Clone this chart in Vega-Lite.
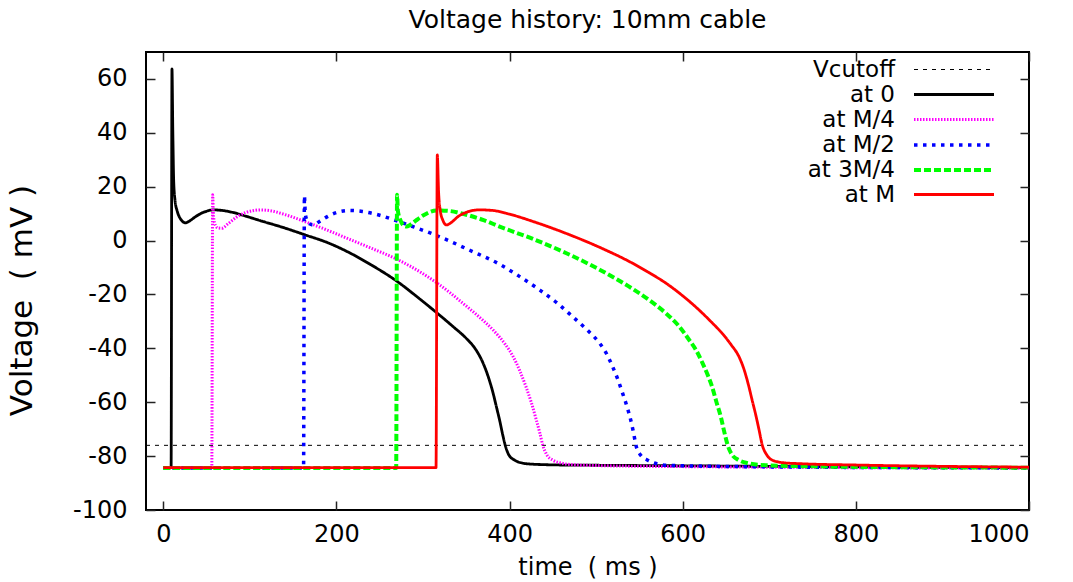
{
  "$schema": "https://vega.github.io/schema/vega-lite/v6.json",
  "width": 883,
  "height": 458,
  "autosize": {"type": "none"},
  "padding": {"left": 146, "top": 52, "right": 44, "bottom": 72},
  "background": "white",
  "title": {"text": "Voltage history: 10mm cable", "font": "DejaVu Sans", "fontSize": 25, "fontWeight": "normal", "color": "black", "anchor": "middle", "offset": 18},
  "config": {
    "view": {"stroke": "black", "strokeWidth": 2},
    "axis": {"grid": false, "domain": false, "labelFont": "DejaVu Sans", "labelFontSize": 24, "labelColor": "black", "titleFont": "DejaVu Sans", "titleFontSize": 25, "titleFontWeight": "normal", "titleColor": "black", "tickColor": "#222222", "tickWidth": 1.5, "tickSize": -9},
    "legend": {"title": null, "labelFont": "DejaVu Sans", "labelFontSize": 23, "labelColor": "black", "labelLimit": 0, "padding": 0, "rowPadding": 1}
  },
  "datasets": {
    "v": [
      {"s": "Vcutoff", "t": -20, "v": -76}, {"s": "Vcutoff", "t": 1000, "v": -76},
      {"s": "at 0", "t": 0, "v": -84.3}, {"s": "at 0", "t": 9, "v": -84.3}, {"s": "at 0", "t": 10, "v": 63.7}, {"s": "at 0", "t": 11, "v": 40}, {"s": "at 0", "t": 12, "v": 22}, {"s": "at 0", "t": 13.5, "v": 15}, {"s": "at 0", "t": 16, "v": 11}, {"s": "at 0", "t": 19, "v": 8.5}, {"s": "at 0", "t": 22, "v": 7.2}, {"s": "at 0", "t": 25.5, "v": 6.6}, {"s": "at 0", "t": 30, "v": 7.2}, {"s": "at 0", "t": 36, "v": 8.6}, {"s": "at 0", "t": 43, "v": 10}, {"s": "at 0", "t": 50, "v": 10.9}, {"s": "at 0", "t": 58, "v": 11.4}, {"s": "at 0", "t": 70, "v": 11.1}, {"s": "at 0", "t": 81, "v": 10.4}, {"s": "at 0", "t": 95, "v": 9.1}, {"s": "at 0", "t": 112, "v": 7.4}, {"s": "at 0", "t": 140, "v": 4.7}, {"s": "at 0", "t": 164, "v": 2.1}, {"s": "at 0", "t": 190, "v": -0.8}, {"s": "at 0", "t": 215, "v": -4.5}, {"s": "at 0", "t": 240, "v": -9}, {"s": "at 0", "t": 269, "v": -14.9}, {"s": "at 0", "t": 296, "v": -21.6}, {"s": "at 0", "t": 317, "v": -27.1}, {"s": "at 0", "t": 335, "v": -32}, {"s": "at 0", "t": 350, "v": -36.3}, {"s": "at 0", "t": 360, "v": -40}, {"s": "at 0", "t": 369, "v": -45.2}, {"s": "at 0", "t": 375, "v": -50.2}, {"s": "at 0", "t": 381, "v": -56.7}, {"s": "at 0", "t": 385, "v": -62}, {"s": "at 0", "t": 388.5, "v": -66.7}, {"s": "at 0", "t": 392, "v": -72}, {"s": "at 0", "t": 395, "v": -76}, {"s": "at 0", "t": 399, "v": -79.5}, {"s": "at 0", "t": 405.8, "v": -81.5}, {"s": "at 0", "t": 415, "v": -82.6}, {"s": "at 0", "t": 427, "v": -83}, {"s": "at 0", "t": 460, "v": -83.3}, {"s": "at 0", "t": 504, "v": -83.4}, {"s": "at 0", "t": 600, "v": -83.6}, {"s": "at 0", "t": 700, "v": -83.8}, {"s": "at 0", "t": 800, "v": -84}, {"s": "at 0", "t": 900, "v": -84.2}, {"s": "at 0", "t": 1000, "v": -84.3},
      {"s": "at M/4", "t": 0, "v": -84.4}, {"s": "at M/4", "t": 56, "v": -84.4}, {"s": "at M/4", "t": 57, "v": 17}, {"s": "at M/4", "t": 58, "v": 9}, {"s": "at M/4", "t": 60, "v": 5.8}, {"s": "at M/4", "t": 63, "v": 4.7}, {"s": "at M/4", "t": 67.6, "v": 4.6}, {"s": "at M/4", "t": 75, "v": 6.3}, {"s": "at M/4", "t": 85, "v": 8.8}, {"s": "at M/4", "t": 95, "v": 10.4}, {"s": "at M/4", "t": 105, "v": 11.2}, {"s": "at M/4", "t": 112, "v": 11.4}, {"s": "at M/4", "t": 125, "v": 11}, {"s": "at M/4", "t": 140, "v": 9.7}, {"s": "at M/4", "t": 164, "v": 7}, {"s": "at M/4", "t": 190, "v": 3.8}, {"s": "at M/4", "t": 215, "v": 0.5}, {"s": "at M/4", "t": 240, "v": -2.8}, {"s": "at M/4", "t": 269, "v": -6.8}, {"s": "at M/4", "t": 300, "v": -12.3}, {"s": "at M/4", "t": 331, "v": -19.3}, {"s": "at M/4", "t": 342, "v": -22.2}, {"s": "at M/4", "t": 360, "v": -27}, {"s": "at M/4", "t": 381, "v": -33.2}, {"s": "at M/4", "t": 395, "v": -38.5}, {"s": "at M/4", "t": 404, "v": -43}, {"s": "at M/4", "t": 412, "v": -48.5}, {"s": "at M/4", "t": 419, "v": -54.3}, {"s": "at M/4", "t": 425, "v": -60}, {"s": "at M/4", "t": 431, "v": -66.7}, {"s": "at M/4", "t": 435, "v": -71.5}, {"s": "at M/4", "t": 438.4, "v": -76}, {"s": "at M/4", "t": 443, "v": -79.5}, {"s": "at M/4", "t": 450, "v": -81.5}, {"s": "at M/4", "t": 460, "v": -82.6}, {"s": "at M/4", "t": 473, "v": -83.2}, {"s": "at M/4", "t": 500, "v": -83.5}, {"s": "at M/4", "t": 600, "v": -83.9}, {"s": "at M/4", "t": 700, "v": -84.1}, {"s": "at M/4", "t": 800, "v": -84.3}, {"s": "at M/4", "t": 900, "v": -84.4}, {"s": "at M/4", "t": 1000, "v": -84.5},
      {"s": "at M/2", "t": 0, "v": -84.4}, {"s": "at M/2", "t": 162, "v": -84.4}, {"s": "at M/2", "t": 163, "v": 16.6}, {"s": "at M/2", "t": 164, "v": 10}, {"s": "at M/2", "t": 166, "v": 7.5}, {"s": "at M/2", "t": 169, "v": 6.2}, {"s": "at M/2", "t": 173, "v": 5.8}, {"s": "at M/2", "t": 180, "v": 7}, {"s": "at M/2", "t": 190, "v": 9}, {"s": "at M/2", "t": 200, "v": 10.4}, {"s": "at M/2", "t": 215, "v": 11.2}, {"s": "at M/2", "t": 230, "v": 10.8}, {"s": "at M/2", "t": 250, "v": 9.4}, {"s": "at M/2", "t": 269, "v": 7.4}, {"s": "at M/2", "t": 290, "v": 5}, {"s": "at M/2", "t": 310, "v": 2.6}, {"s": "at M/2", "t": 331, "v": -0.2}, {"s": "at M/2", "t": 354, "v": -3.6}, {"s": "at M/2", "t": 388.5, "v": -8.8}, {"s": "at M/2", "t": 410, "v": -13}, {"s": "at M/2", "t": 434.6, "v": -18.3}, {"s": "at M/2", "t": 455, "v": -23.2}, {"s": "at M/2", "t": 473, "v": -28.3}, {"s": "at M/2", "t": 490, "v": -33.3}, {"s": "at M/2", "t": 504, "v": -38.1}, {"s": "at M/2", "t": 512, "v": -42}, {"s": "at M/2", "t": 519, "v": -46.8}, {"s": "at M/2", "t": 525, "v": -51.5}, {"s": "at M/2", "t": 530.6, "v": -56.7}, {"s": "at M/2", "t": 536, "v": -62}, {"s": "at M/2", "t": 540, "v": -66.7}, {"s": "at M/2", "t": 543, "v": -71}, {"s": "at M/2", "t": 546, "v": -76}, {"s": "at M/2", "t": 551, "v": -79.5}, {"s": "at M/2", "t": 559.5, "v": -81.5}, {"s": "at M/2", "t": 570, "v": -82.8}, {"s": "at M/2", "t": 580.6, "v": -83.4}, {"s": "at M/2", "t": 620, "v": -83.7}, {"s": "at M/2", "t": 700, "v": -84}, {"s": "at M/2", "t": 800, "v": -84.2}, {"s": "at M/2", "t": 900, "v": -84.3}, {"s": "at M/2", "t": 1000, "v": -84.4},
      {"s": "at 3M/4", "t": 0, "v": -84.4}, {"s": "at 3M/4", "t": 269, "v": -84.4}, {"s": "at 3M/4", "t": 270, "v": 17}, {"s": "at 3M/4", "t": 271, "v": 11}, {"s": "at 3M/4", "t": 274, "v": 7.5}, {"s": "at 3M/4", "t": 278, "v": 5.5}, {"s": "at 3M/4", "t": 281, "v": 5.2}, {"s": "at 3M/4", "t": 285, "v": 5.8}, {"s": "at 3M/4", "t": 292, "v": 7.5}, {"s": "at 3M/4", "t": 300, "v": 9.3}, {"s": "at 3M/4", "t": 315.5, "v": 11.2}, {"s": "at 3M/4", "t": 330, "v": 11}, {"s": "at 3M/4", "t": 350, "v": 9.6}, {"s": "at 3M/4", "t": 370, "v": 7.6}, {"s": "at 3M/4", "t": 388.5, "v": 5.2}, {"s": "at 3M/4", "t": 427, "v": 0.6}, {"s": "at 3M/4", "t": 465, "v": -4.6}, {"s": "at 3M/4", "t": 504, "v": -10.8}, {"s": "at 3M/4", "t": 542, "v": -17.9}, {"s": "at 3M/4", "t": 560, "v": -21.8}, {"s": "at 3M/4", "t": 580.6, "v": -27}, {"s": "at 3M/4", "t": 595, "v": -31.5}, {"s": "at 3M/4", "t": 607.5, "v": -36.9}, {"s": "at 3M/4", "t": 616, "v": -41}, {"s": "at 3M/4", "t": 623, "v": -45.6}, {"s": "at 3M/4", "t": 629, "v": -50}, {"s": "at 3M/4", "t": 634, "v": -54.3}, {"s": "at 3M/4", "t": 639, "v": -60}, {"s": "at 3M/4", "t": 644, "v": -65.4}, {"s": "at 3M/4", "t": 648, "v": -71}, {"s": "at 3M/4", "t": 652, "v": -76}, {"s": "at 3M/4", "t": 657, "v": -79.5}, {"s": "at 3M/4", "t": 665, "v": -81.5}, {"s": "at 3M/4", "t": 675, "v": -82.6}, {"s": "at 3M/4", "t": 696, "v": -83.4}, {"s": "at 3M/4", "t": 750, "v": -83.8}, {"s": "at 3M/4", "t": 850, "v": -84.1}, {"s": "at 3M/4", "t": 1000, "v": -84.3},
      {"s": "at M", "t": 0, "v": -84.3}, {"s": "at M", "t": 315, "v": -84.3}, {"s": "at M", "t": 316.5, "v": 31.8}, {"s": "at M", "t": 318, "v": 18}, {"s": "at M", "t": 320, "v": 11}, {"s": "at M", "t": 323, "v": 7.5}, {"s": "at M", "t": 327, "v": 5.8}, {"s": "at M", "t": 333, "v": 6.8}, {"s": "at M", "t": 340, "v": 8.8}, {"s": "at M", "t": 350, "v": 10.5}, {"s": "at M", "t": 365, "v": 11.4}, {"s": "at M", "t": 380, "v": 11.2}, {"s": "at M", "t": 400, "v": 9.8}, {"s": "at M", "t": 427, "v": 7.1}, {"s": "at M", "t": 465, "v": 2.7}, {"s": "at M", "t": 504, "v": -2.5}, {"s": "at M", "t": 542, "v": -8.4}, {"s": "at M", "t": 560, "v": -11.7}, {"s": "at M", "t": 580.6, "v": -15.8}, {"s": "at M", "t": 600, "v": -20.5}, {"s": "at M", "t": 619, "v": -25.8}, {"s": "at M", "t": 633, "v": -30.2}, {"s": "at M", "t": 646, "v": -34.6}, {"s": "at M", "t": 656, "v": -38.7}, {"s": "at M", "t": 665, "v": -43.1}, {"s": "at M", "t": 671, "v": -48}, {"s": "at M", "t": 676.5, "v": -54.3}, {"s": "at M", "t": 680, "v": -59}, {"s": "at M", "t": 684, "v": -64.2}, {"s": "at M", "t": 688, "v": -70}, {"s": "at M", "t": 692, "v": -76}, {"s": "at M", "t": 697, "v": -79.5}, {"s": "at M", "t": 703.5, "v": -81.5}, {"s": "at M", "t": 715, "v": -82.4}, {"s": "at M", "t": 735, "v": -82.8}, {"s": "at M", "t": 800, "v": -83.3}, {"s": "at M", "t": 900, "v": -83.8}, {"s": "at M", "t": 1000, "v": -84.1}
    ]
  },
  "data": {"name": "v"},
  "layer": [
    {
      "transform": [{"filter": "datum.s === 'Vcutoff'"}],
      "mark": {"type": "line", "clip": true},
      "encoding": {
        "x": {"field": "t", "type": "quantitative", "scale": {"domain": [-20, 1000], "nice": false, "zero": false}, "axis": {"orient": "top", "labels": false, "title": null, "values": [0, 200, 400, 600, 800, 1000]}},
        "y": {"field": "v", "type": "quantitative", "scale": {"domain": [-100, 70], "nice": false, "zero": false}, "axis": {"orient": "right", "labels": false, "title": null, "values": [-100, -80, -60, -40, -20, 0, 20, 40, 60]}},
        "color": {"field": "s", "type": "nominal", "scale": {"domain": ["Vcutoff", "at 0", "at M/4", "at M/2", "at 3M/4", "at M"], "range": ["#000000", "#000000", "#ff00ff", "#0000ff", "#00ff00", "#ff0000"]}, "legend": {"orient": "none", "legendX": 796, "legendY": 6, "labelAlign": "right", "labelOffset": -71, "symbolType": "M-4,0H4", "symbolSize": 400}},
        "strokeDash": {"field": "s", "type": "nominal", "scale": {"domain": ["Vcutoff", "at 0", "at M/4", "at M/2", "at 3M/4", "at M"], "range": [[4, 5], [1, 0], [1.5, 1.5], [3.5, 5.5], [7, 3], [1, 0]]}, "legend": {"orient": "none", "legendX": 796, "legendY": 6, "labelAlign": "right", "labelOffset": -71, "symbolType": "M-4,0H4", "symbolSize": 400}},
        "strokeWidth": {"field": "s", "type": "nominal", "scale": {"type": "ordinal", "domain": ["Vcutoff", "at 0", "at M/4", "at M/2", "at 3M/4", "at M"], "range": [1, 2.8, 3, 3.5, 4, 2.8]}, "legend": {"orient": "none", "legendX": 796, "legendY": 6, "labelAlign": "right", "labelOffset": -71, "symbolType": "M-4,0H4", "symbolSize": 400}}
      }
    },
    {
      "transform": [{"filter": "datum.s !== 'Vcutoff'"}],
      "mark": {"type": "line", "clip": true, "interpolate": "monotone"},
      "encoding": {
        "x": {"field": "t", "type": "quantitative", "scale": {"domain": [-20, 1000], "nice": false, "zero": false}, "axis": {"orient": "bottom", "title": "time \u00a0( ms )", "titleFontSize": 24, "values": [0, 200, 400, 600, 800, 1000], "labelExpr": "'' + datum.value", "labelPadding": 21, "titlePadding": 9}},
        "y": {"field": "v", "type": "quantitative", "scale": {"domain": [-100, 70], "nice": false, "zero": false}, "axis": {"orient": "left", "title": "Voltage \u00a0( mV )", "titleFontSize": 31, "titleY": 248, "values": [-100, -80, -60, -40, -20, 0, 20, 40, 60], "labelExpr": "'' + datum.value", "labelPadding": 28, "titlePadding": 34}},
        "color": {"field": "s", "type": "nominal", "scale": {"domain": ["Vcutoff", "at 0", "at M/4", "at M/2", "at 3M/4", "at M"], "range": ["#000000", "#000000", "#ff00ff", "#0000ff", "#00ff00", "#ff0000"]}, "legend": {"orient": "none", "legendX": 796, "legendY": 6, "labelAlign": "right", "labelOffset": -71, "symbolType": "M-4,0H4", "symbolSize": 400}},
        "strokeDash": {"field": "s", "type": "nominal", "scale": {"domain": ["Vcutoff", "at 0", "at M/4", "at M/2", "at 3M/4", "at M"], "range": [[4, 5], [1, 0], [1.5, 1.5], [3.5, 5.5], [7, 3], [1, 0]]}, "legend": {"orient": "none", "legendX": 796, "legendY": 6, "labelAlign": "right", "labelOffset": -71, "symbolType": "M-4,0H4", "symbolSize": 400}},
        "strokeWidth": {"field": "s", "type": "nominal", "scale": {"type": "ordinal", "domain": ["Vcutoff", "at 0", "at M/4", "at M/2", "at 3M/4", "at M"], "range": [1, 2.8, 3, 3.5, 4, 2.8]}, "legend": {"orient": "none", "legendX": 796, "legendY": 6, "labelAlign": "right", "labelOffset": -71, "symbolType": "M-4,0H4", "symbolSize": 400}}
      }
    }
  ],
  "resolve": {"axis": {"x": "independent", "y": "independent"}}
}
